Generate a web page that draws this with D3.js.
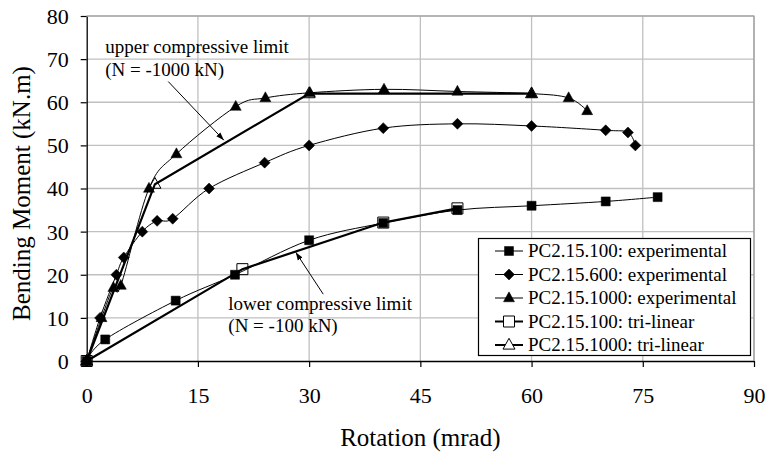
<!DOCTYPE html>
<html><head><meta charset="utf-8">
<script src="https://cdn.jsdelivr.net/npm/d3@7"></script>
<style>body{margin:0;background:#fff}svg{display:block}</style>
</head><body><svg id="c" width="767" height="455"></svg>
<script>
// ---- data ----
const xTicks = [0, 15, 30, 45, 60, 75, 90];
const yTicks = [0, 10, 20, 30, 40, 50, 60, 70, 80];
const exp100 = [[0,0],[2.5,5],[12,14],[20,20],[30,28],[40,32],[50,35],[60,36],[70,37],[77,38]];
const exp600 = [[0,0],[1.8,10],[4,20],[5,24],[7.5,30],[9.5,32.5],[11.6,33],[16.5,40],[24,46],[30,50],[40,54],[50,55],[60,54.5],[70,53.5],[73,53],[74,50]];
const exp1000 = [[0,0],[2,10],[3.6,17],[4.6,17.5],[8.4,40],[12.1,48],[20.1,59],[24.1,61],[30.1,62.2],[40.1,63],[50,62.5],[60,62],[65,61],[67.5,58]];
const tri100 = [[0,0],[21,21.3],[40,32.1],[50,35.4]];
const tri1000 = [[0,0],[9.2,41],[30,62],[60,62]];
const legendLabels = ["PC2.15.100: experimental","PC2.15.600: experimental","PC2.15.1000: experimental","PC2.15.100: tri-linear","PC2.15.1000: tri-linear"];
const annUpper = {lines:["upper compressive limit","(N = -1000 kN)"], tx:2.5, ty:[71.4,66.1], from:[11,64.8], to:[18.5,51.2]};
const annLower = {lines:["lower compressive limit","(N = -100 kN)"], tx:19.1, ty:[11.8,6.8], from:[31.9,15.5], to:[28.2,25.2]};

const FF = '"Liberation Serif", "Times New Roman", Times, serif';
const svg = d3.select("#c");
const L=86.7, R=754, T=16, B=361;
const x = d3.scaleLinear().domain([0,90]).range([L,R]);
const y = d3.scaleLinear().domain([0,80]).range([B,T]);

// grid
svg.append("g").selectAll("line").data(xTicks.slice(1)).join("line")
  .attr("x1",d=>x(d)).attr("x2",d=>x(d)).attr("y1",T).attr("y2",B)
  .attr("stroke","#c0c0c0").attr("stroke-width",1.3);
svg.append("g").selectAll("line").data(yTicks.slice(1)).join("line")
  .attr("x1",L).attr("x2",R).attr("y1",d=>y(d)).attr("y2",d=>y(d))
  .attr("stroke","#c0c0c0").attr("stroke-width",1.3);

// axes
const xa = svg.append("g").attr("transform",`translate(0,${B})`)
  .call(d3.axisBottom(x).tickValues(xTicks).tickSize(6).tickSizeOuter(0).tickPadding(6));
const ya = svg.append("g").attr("transform",`translate(${L},0)`)
  .call(d3.axisLeft(y).tickValues(yTicks).tickSize(6).tickSizeOuter(0).tickPadding(12));
[xa,ya].forEach(a=>{a.attr("font-family",FF).attr("font-size",22);
  a.select(".domain").attr("stroke","#000").attr("stroke-width",1.3);
  a.selectAll(".tick line").attr("stroke","#000").attr("stroke-width",1.2);
  a.selectAll("text").attr("font-family",FF).attr("font-size",22).attr("fill","#000");});
xa.selectAll("text").attr("y",12).attr("dy","30px");
ya.selectAll("text").attr("dy","0.34em");

svg.append("text").attr("x",(L+R)/2).attr("y",446).attr("text-anchor","middle").attr("font-family",FF).attr("font-size",25).text("Rotation (mrad)");
svg.append("text").attr("transform",`translate(30,${(T+B)/2+5}) rotate(-90)`).attr("text-anchor","middle").attr("font-family",FF).attr("font-size",25).text("Bending Moment (kN.m)");

// series
const smooth = d3.line().x(d=>x(d[0])).y(d=>y(d[1])).curve(d3.curveCardinal.tension(0));
const straight = d3.line().x(d=>x(d[0])).y(d=>y(d[1]));

function sq(s){return `M${-s/2},${-s/2}h${s}v${s}h${-s}Z`;}
function dia(s){return `M0,${-s/2}L${s/2},0L0,${s/2}L${-s/2},0Z`;}
function tri(s){const h=s*0.9;return `M0,${-h*0.62}L${s/2},${h*0.38}L${-s/2},${h*0.38}Z`;}

const series = [
  {data:exp100, line:smooth, w:1, marker:sq(9), fill:"#000", stroke:"#000", sw:0.5},
  {data:exp600, line:smooth, w:1, marker:dia(11), fill:"#000", stroke:"#000", sw:0.5},
  {data:exp1000, line:smooth, w:1, marker:tri(11), fill:"#000", stroke:"#000", sw:0.5},
  {data:tri100, line:straight, w:2.2, marker:sq(11), fill:"none", stroke:"#000", sw:1},
  {data:tri1000, line:straight, w:2.2, marker:tri(12), fill:"none", stroke:"#000", sw:1}
];
series.forEach(s=>{
  svg.append("path").attr("d",s.line(s.data)).attr("fill","none").attr("stroke","#000").attr("stroke-width",s.w);
});
series.forEach(s=>{
  svg.append("g").selectAll("path").data(s.data).join("path")
    .attr("transform",d=>`translate(${x(d[0])},${y(d[1])})`)
    .attr("d",s.marker).attr("fill",s.fill).attr("stroke",s.stroke).attr("stroke-width",s.sw);
});

// plot border top/right
svg.append("path").attr("d",`M${L},${T}H${R}V${B}`).attr("fill","none").attr("stroke","#9a9a9a").attr("stroke-width",1.2);

// annotations
svg.append("defs").append("marker").attr("id","ah").attr("viewBox","0 0 10 10").attr("refX",10).attr("refY",5)
  .attr("markerWidth",8).attr("markerHeight",8).attr("markerUnits","userSpaceOnUse").attr("orient","auto")
  .append("path").attr("d","M0,1.5L10,5L0,8.5Z").attr("fill","#000");
[annUpper,annLower].forEach(a=>{
  a.lines.forEach((t,i)=>svg.append("text").attr("x",x(a.tx)).attr("y",y(a.ty[i])).attr("font-family",FF).attr("font-size",19).text(t));
  svg.append("line").attr("x1",x(a.from[0])).attr("y1",y(a.from[1])).attr("x2",x(a.to[0])).attr("y2",y(a.to[1]))
    .attr("stroke","#000").attr("stroke-width",1).attr("marker-end","url(#ah)");
});

// legend
const lg = svg.append("g");
lg.append("rect").attr("x",478.5).attr("y",238.5).attr("width",272).attr("height",117).attr("fill","#fff").attr("stroke","#000").attr("stroke-width",1.2);
legendLabels.forEach((lab,i)=>{
  const s = series[i], cy = 251 + i*23.5;
  lg.append("line").attr("x1",495).attr("x2",523).attr("y1",cy).attr("y2",cy).attr("stroke","#000").attr("stroke-width",s.w===1?1:2);
  lg.append("path").attr("transform",`translate(509,${cy})`).attr("d",s.marker).attr("fill",s.fill==="none"?"#fff":s.fill).attr("stroke","#000").attr("stroke-width",s.sw);
  lg.append("text").attr("x",528).attr("y",cy).attr("dy","0.34em").attr("font-family",FF).attr("font-size",19).text(lab);
});
</script></body></html>
